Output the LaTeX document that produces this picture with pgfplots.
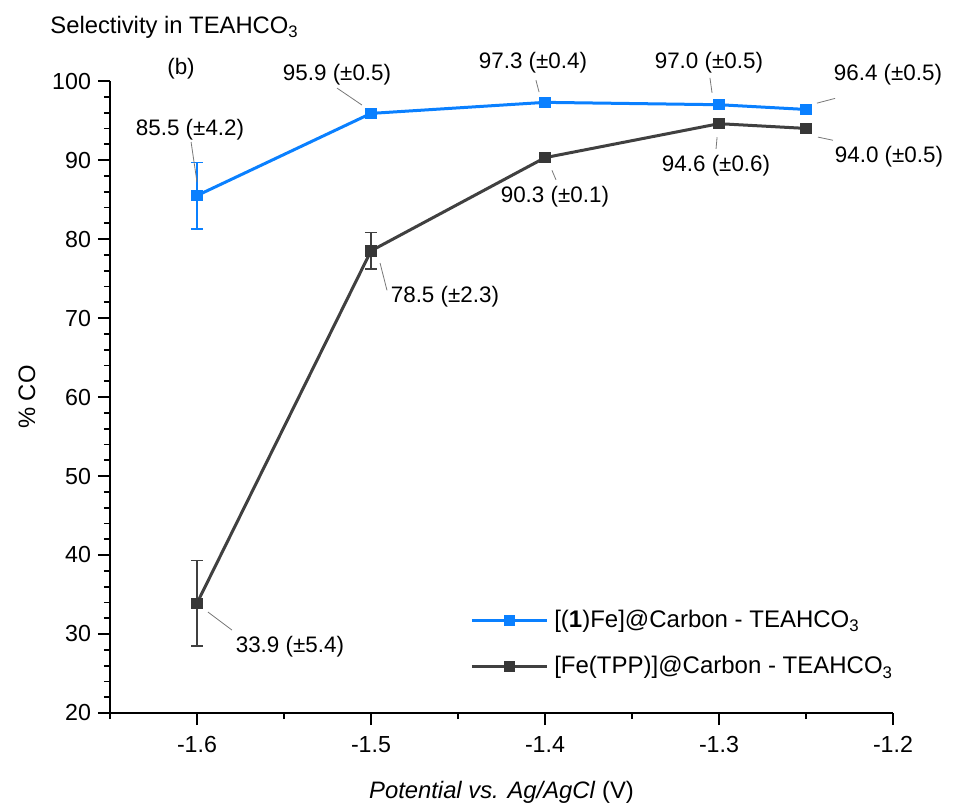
\documentclass[border=0pt]{standalone}
\usepackage{pgfplots}
\pgfplotsset{compat=1.18}
\usepackage{fontspec}
\setmainfont{Liberation Sans}
\definecolor{cblue}{RGB}{10,128,255}
\definecolor{cgray}{RGB}{64,64,64}
\definecolor{cmark}{RGB}{55,55,55}
\definecolor{clead}{RGB}{120,120,120}
\newcommand{\sub}[1]{\raisebox{-0.35ex}{\fontsize{0.7\dimexpr\fontdimen6\font\relax}{1}\selectfont #1}}
\begin{document}
\begin{tikzpicture}
\begin{axis}[
  at={(0,0)}, anchor=south west,
  scale only axis, width=391.5pt, height=316pt,
  xmin=-1.65, xmax=-1.2, ymin=20, ymax=100,
  axis x line*=bottom, axis y line*=left,
  axis line style={line width=1pt, -},
  tick align=outside,
  major tick length=6pt, minor tick length=3pt,
  every tick/.style={line width=0.9pt, black},
  xtick={-1.6,-1.5,-1.4,-1.3,-1.2},
  minor xtick={-1.65,-1.55,-1.45,-1.35,-1.25},
  ytick={20,30,40,50,60,70,80,90,100},
  minor y tick num=4,
  /pgf/number format/assume math mode=true,
  xticklabel style={/pgf/number format/.cd, fixed, precision=1, fixed zerofill, /tikz/.cd, yshift=-2pt},
  ticklabel style={font=\fontsize{11.6}{13}\selectfont},
  xlabel={\textit{Potential vs. Ag/AgCl} (V)},
  ylabel={\% CO},
  label style={font=\fontsize{11.9}{13}\selectfont},
  xlabel style={at={(axis description cs:0.5,-0.125)}, anchor=center},
  ylabel style={at={(axis description cs:-0.106,0.5)}, anchor=center},
  clip=false,
  legend style={draw=none, fill=none, at={(axis description cs:0.452,0.11)}, anchor=west,
    font=\fontsize{12}{14}\selectfont, row sep=9pt},
  legend cell align=left,
  legend image code/.code={\draw[mark repeat=2, mark phase=2, #1] plot coordinates {(0pt,0pt) (18.75pt,0pt) (37.5pt,0pt)};},
]
\addplot[color=cblue, line width=1.5pt, mark=square*, mark size=2.6pt,
  mark options={fill=cblue, draw=cblue, line width=0.5pt},
  error bars/.cd, y dir=both, y explicit,
  error bar style={line width=0.8pt, color=cblue},
  error mark options={rotate=90, mark size=3pt, line width=0.8pt, color=cblue}]
  coordinates {
  (-1.6,85.5) +- (0,4.2)
  (-1.5,95.9) +- (0,0.5)
  (-1.4,97.3) +- (0,0.4)
  (-1.3,97.0) +- (0,0.5)
  (-1.25,96.4) +- (0,0.5)
  };
\addlegendentry{\hspace{1pt}[(\textbf{1})Fe]@Carbon - TEAHCO\sub{3}}
\addplot[color=cgray, line width=1.5pt, mark=square*, mark size=2.6pt,
  mark options={fill=cmark, draw=cmark, line width=0.5pt},
  error bars/.cd, y dir=both, y explicit,
  error bar style={line width=0.8pt, color=cgray},
  error mark options={rotate=90, mark size=3pt, line width=0.8pt, color=cgray}]
  coordinates {
  (-1.6,33.9) +- (0,5.4)
  (-1.5,78.5) +- (0,2.3)
  (-1.4,90.3) +- (0,0.1)
  (-1.3,94.6) +- (0,0.6)
  (-1.25,94.0) +- (0,0.5)
  };
\addlegendentry{\hspace{1pt}[Fe(TPP)]@Carbon - TEAHCO\sub{3}}

% annotations
\begin{scope}[every node/.style={font=\fontsize{11.2}{13}\selectfont, inner sep=0pt}]
\node at (axis cs:-1.604,93.8) {85.5 (±4.2)};
\node at (axis cs:-1.5195,100.76) {95.9 (±0.5)};
\node at (axis cs:-1.4069,102.28) {97.3 (±0.4)};
\node at (axis cs:-1.3058,102.28) {97.0 (±0.5)};
\node at (axis cs:-1.2029,100.76) {96.4 (±0.5)};
\node at (axis cs:-1.3017,89.24) {94.6 (±0.6)};
\node at (axis cs:-1.2023,90.38) {94.0 (±0.5)};
\node at (axis cs:-1.3943,85.3) {90.3 (±0.1)};
\node at (axis cs:-1.4575,72.66) {78.5 (±2.3)};
\node at (axis cs:-1.5466,28.35) {33.9 (±5.4)};
\node at (axis cs:-1.6092,101.6) {(b)};
\end{scope}
\begin{scope}[clead, line width=0.4pt]
\draw (axis cs:-1.6034,92.28) -- (axis cs:-1.6,87.2);
\draw (axis cs:-1.5195,99.1) -- (axis cs:-1.5052,96.96);
\draw (axis cs:-1.4052,100.1) -- (axis cs:-1.4034,98.6);
\draw (axis cs:-1.3052,100.4) -- (axis cs:-1.304,98.5);
\draw (axis cs:-1.2437,97.2) -- (axis cs:-1.2333,97.8);
\draw (axis cs:-1.3011,92.9) -- (axis cs:-1.3017,91.4);
\draw (axis cs:-1.2431,92.9) -- (axis cs:-1.2345,92.5);
\draw (axis cs:-1.396,88.7) -- (axis cs:-1.3937,87.5);
\draw (axis cs:-1.4948,76.96) -- (axis cs:-1.4908,73.5);
\draw (axis cs:-1.5937,32.78) -- (axis cs:-1.5799,30.5);
\end{scope}
\end{axis}
\node[anchor=west, inner sep=0pt, font=\fontsize{11.9}{13}\selectfont] at (-30pt,343pt) {Selectivity in TEAHCO\sub{3}};
\path (-55pt,-48pt) rectangle (422pt,356.5pt);
\end{tikzpicture}
\end{document}
